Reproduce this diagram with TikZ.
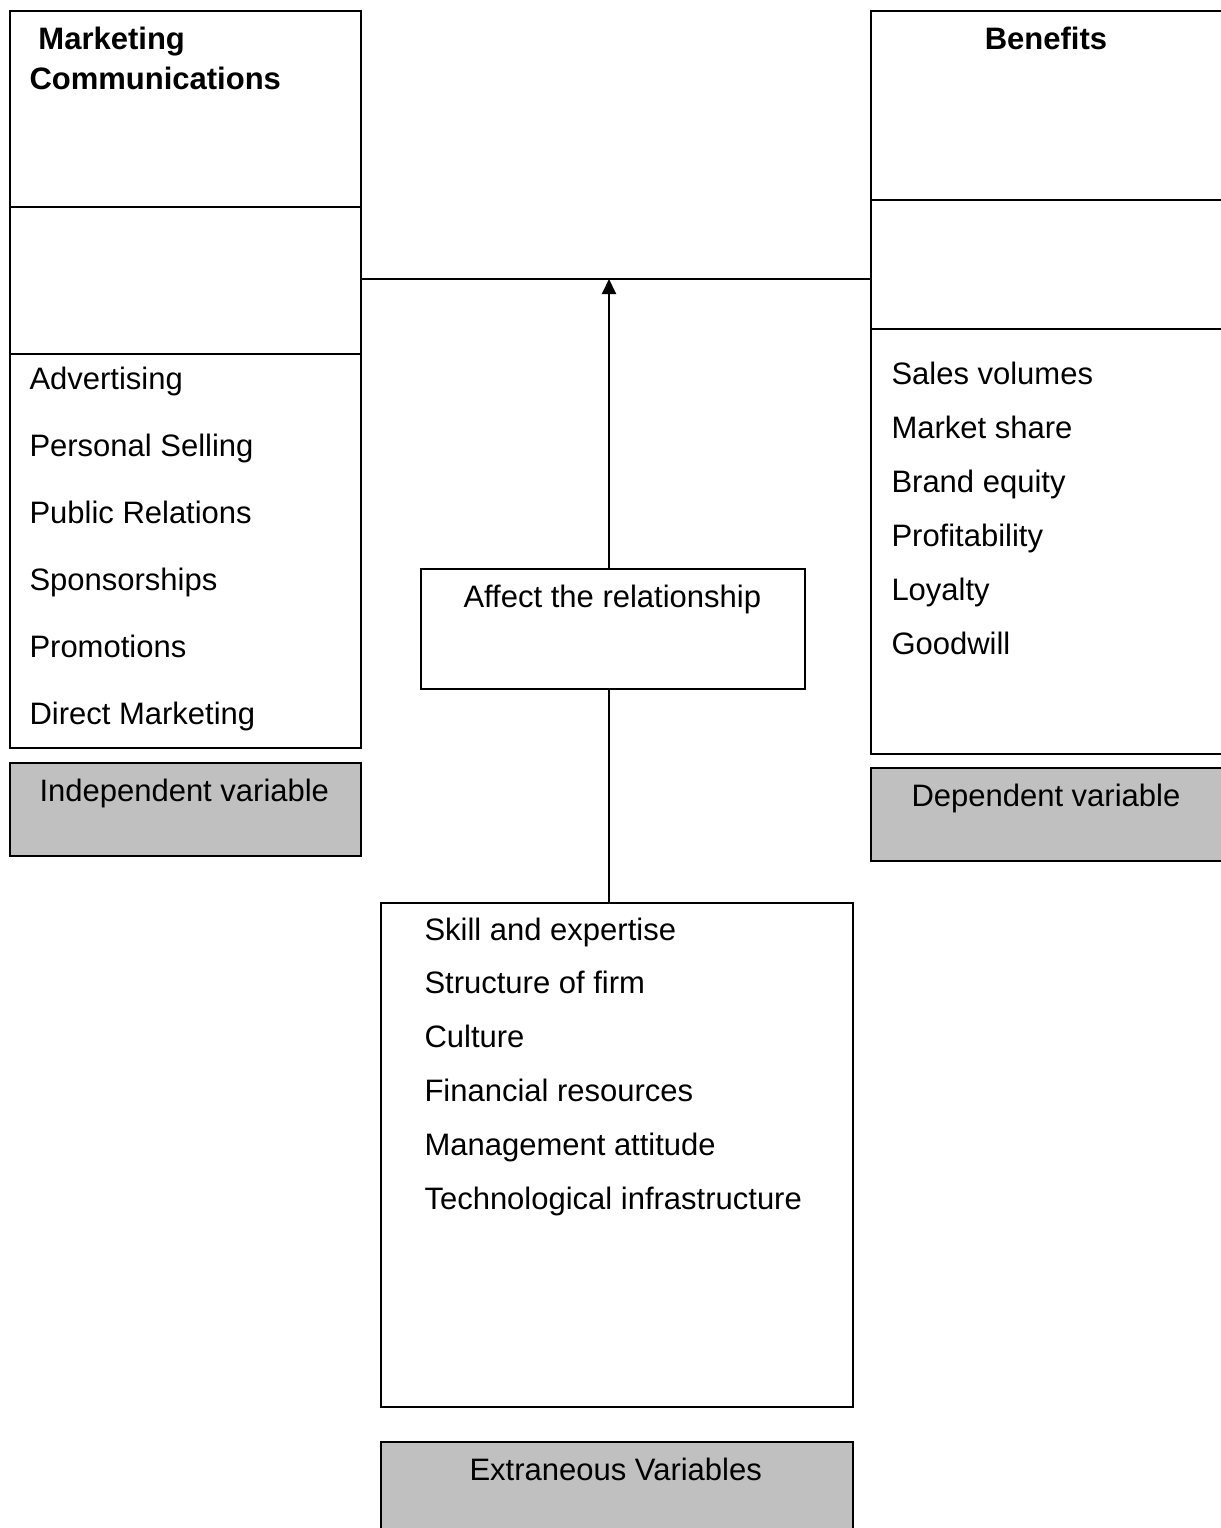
\documentclass[tikz,border=0pt]{standalone}
\usepackage{fontspec}
\setmainfont{Liberation Sans}
\usetikzlibrary{arrows.meta}
\definecolor{boxgray}{RGB}{192,192,192}
\tikzset{
  box/.style={draw, line width=0.8pt, anchor=north west, inner sep=0pt},
  graybox/.style={box, fill=boxgray},
  txt/.style={anchor=base west, inner sep=0pt, font=\fontsize{12.4}{14}\selectfont},
  link/.style={line width=0.8pt}
}
\begin{document}
\begin{tikzpicture}[x=0.4pt,y=-0.4pt]
\useasboundingbox (0,0) rectangle (1221,1528);
% boxes
\node[box, minimum width=140.4pt, minimum height=294.8pt] (mc) at (9,10) {};
\node[box, minimum width=140.4pt, minimum height=297.2pt] (ben) at (870,10) {};
\node[graybox, minimum width=140.4pt, minimum height=37.2pt] (indep) at (9,762) {};
\node[graybox, minimum width=140.4pt, minimum height=37.2pt] (dep) at (870,767) {};
\node[box, minimum width=153.6pt, minimum height=48pt] (affect) at (420,568) {};
\node[box, minimum width=188.8pt, minimum height=201.6pt] (extra) at (380,902) {};
\node[graybox, minimum width=188.8pt, minimum height=40pt] (extvar) at (380,1441) {};
% dividers
\draw[link] (9,207) -- (360,207);
\draw[link] (9,354) -- (360,354);
\draw[link] (870,200) -- (1221,200);
\draw[link] (870,329) -- (1221,329);
% connectors
\coordinate (mid) at (609,279);
\draw[link] (mc.east |- mid) -- (ben.west |- mid);
\draw[link,-{Triangle[width=5.6pt,length=6pt]}] (affect.north -| mid) -- (mid);
\draw[link] (extra.north -| mid) -- (affect.south -| mid);
% titles
\node[txt, font=\fontsize{12.4}{14}\selectfont\bfseries] (t1) at (38,49) {Marketing};
\node[txt, font=\fontsize{12.4}{14}\selectfont\bfseries] (t2) at (29,89) {Communications};
\node[txt, anchor=base, font=\fontsize{12.4}{14}\selectfont\bfseries] (t3) at (1046,49) {Benefits};
\node[txt] (l1) at (39,801) {Independent variable};
\node[txt] (l2) at (911,806) {Dependent variable};
\node[txt] (l3) at (469,1480) {Extraneous Variables};
\node[txt] (l4) at (463,607) {Affect the relationship};
% lists
\foreach \t [count=\i] in {Advertising, Personal Selling, Public Relations, Sponsorships, Promotions, Direct Marketing}
  \node[txt] (a\i) at (29,{389+67*(\i-1)}) {\t};
\foreach \t [count=\i] in {Sales volumes, Market share, Brand equity, Profitability, Loyalty, Goodwill}
  \node[txt] (b\i) at (891,{384+54*(\i-1)}) {\t};
\foreach \t [count=\i] in {Skill and expertise, Structure of firm, Culture, Financial resources, Management attitude, Technological infrastructure}
  \node[txt] (c\i) at (424,{940+53.8*(\i-1)}) {\t};
\end{tikzpicture}
\end{document}
